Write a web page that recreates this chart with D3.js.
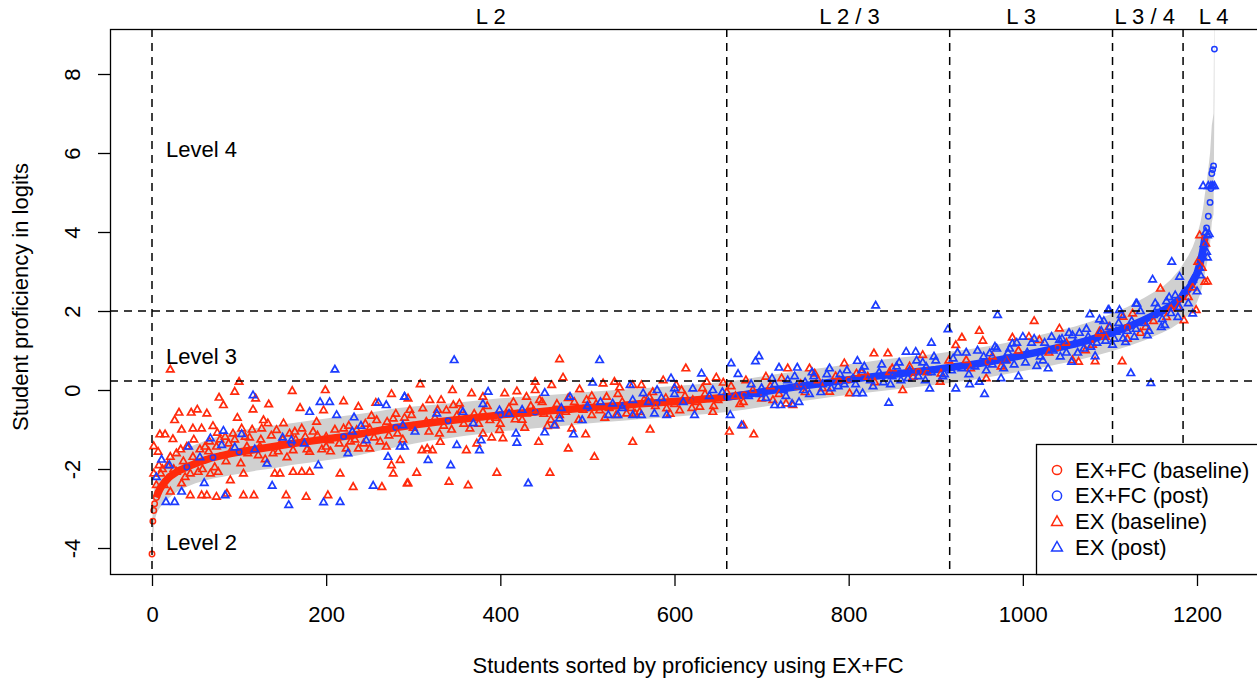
<!DOCTYPE html>
<html>
<head>
<meta charset="utf-8">
<script src="https://cdn.jsdelivr.net/npm/d3@7"></script>
<style>
  body { margin: 0; background: #fff; }
  svg text { font-family: "Liberation Sans", Arial, Helvetica, sans-serif; font-size: 22px; fill: #000; }
</style>
</head>
<body>
<svg width="1257" height="679"></svg>
<script>
// **** data ****

// sorted EX+FC estimates (student index -> logits), with the grey interval
var curveIdx = [0, 1, 2, 3, 5, 7, 10, 15, 20, 30, 40, 50, 60, 70, 80, 90, 100,
  120, 140, 160, 180, 200, 220, 240, 260, 280, 300, 320, 340, 360, 380, 400, 420, 440, 460, 480,
  500, 520, 540, 560, 580, 600, 620, 640, 660, 680, 700, 720, 740, 760, 780, 800, 820, 840, 860,
  880, 900, 920, 940, 960, 980, 1000, 1020, 1040, 1060, 1080, 1100, 1120, 1140, 1160,
  1170, 1180, 1190, 1195, 1200, 1204, 1207, 1209, 1211, 1213, 1215, 1216, 1217, 1218, 1219, 1220];
var curveVal = [-4.15, -3.32, -3.05, -2.88, -2.72, -2.6, -2.47, -2.32, -2.2, -2.05, -1.95, -1.86, -1.78, -1.71, -1.66, -1.61, -1.57,
  -1.5, -1.43, -1.36, -1.3, -1.24, -1.18, -1.11, -1.03, -0.95, -0.89, -0.83, -0.78, -0.73, -0.68, -0.63, -0.59, -0.56, -0.52, -0.49,
  -0.45, -0.42, -0.39, -0.35, -0.32, -0.29, -0.26, -0.22, -0.18, -0.12, -0.05, 0.02, 0.08, 0.14, 0.2, 0.26, 0.32, 0.37, 0.42,
  0.47, 0.52, 0.58, 0.64, 0.71, 0.79, 0.88, 0.97, 1.07, 1.17, 1.29, 1.43, 1.59, 1.78, 2.0,
  2.13, 2.3, 2.55, 2.72, 2.95, 3.25, 3.55, 3.85, 4.1, 4.4, 4.75, 5.1, 5.48, 5.58, 5.67, 8.63];
var bandLo = [-4.5, -3.75, -3.5, -3.3, -3.15, -3.05, -2.95, -2.82, -2.72, -2.55, -2.45, -2.36, -2.3, -2.24, -2.2, -2.16, -2.12,
  -2.04, -1.98, -1.9, -1.84, -1.78, -1.72, -1.64, -1.54, -1.45, -1.36, -1.28, -1.22, -1.16, -1.11, -1.05, -1.01, -0.97, -0.93, -0.89,
  -0.85, -0.81, -0.78, -0.74, -0.71, -0.68, -0.64, -0.6, -0.56, -0.5, -0.43, -0.36, -0.3, -0.24, -0.18, -0.12, -0.07, -0.02, 0.03,
  0.08, 0.13, 0.19, 0.25, 0.32, 0.4, 0.48, 0.56, 0.65, 0.74, 0.85, 0.97, 1.1, 1.26, 1.45,
  1.56, 1.7, 1.9, 2.02, 2.22, 2.45, 2.7, 2.95, 3.15, 3.4, 3.7, 3.95, 4.25, 4.35, 4.45, 7.4];
var bandHi = [-3.75, -2.85, -2.6, -2.45, -2.3, -2.15, -2.0, -1.85, -1.72, -1.58, -1.48, -1.38, -1.3, -1.22, -1.14, -1.08, -1.03,
  -0.96, -0.9, -0.84, -0.78, -0.72, -0.66, -0.6, -0.54, -0.46, -0.42, -0.38, -0.34, -0.3, -0.25, -0.21, -0.18, -0.15, -0.12, -0.09,
  -0.05, -0.02, 0.01, 0.04, 0.07, 0.1, 0.13, 0.17, 0.21, 0.27, 0.34, 0.41, 0.47, 0.53, 0.59, 0.65, 0.71, 0.77, 0.82,
  0.87, 0.92, 0.98, 1.04, 1.11, 1.19, 1.29, 1.39, 1.5, 1.61, 1.75, 1.91, 2.1, 2.34, 2.6,
  2.8, 3.05, 3.4, 3.62, 3.92, 4.25, 4.6, 4.95, 5.25, 5.6, 6.0, 6.35, 6.7, 6.85, 7.0, 10.5];
// b = EX+FC (baseline), p = EX+FC (post), one letter per curve sample
var curveGroup = ('bbbbbbbbb' + 'bpbbpbbp' + 'bbpbbpbbpbbpbbpbpbbpbpbpbpbp' +
  'bppbppbpppbpppbpppbpppbpp' + 'pbppp' + 'ppbpppppppp').split('');
// stretches where the dense circles merge into a solid stripe
var baselineStripe = [5, 680];
var postStripe = [660, 1209];

// EX (baseline): [student index, logits]
var exBaseline = [
  [21, 0.52], [100, 0.21], [95, -0.04], [161, -0.02], [199, 0.0], [275, -0.1], [77, -0.19], [82, -0.38], [119, -0.21],
  [134, -0.36], [170, -0.45], [220, -0.28], [197, -0.51], [257, -0.32], [237, -0.42], [31, -0.57], [45, -0.57], [52, -0.49],
  [63, -0.59], [26, -0.76], [98, -0.7], [116, -0.49], [128, -0.76], [9, -1.12], [15, -1.12], [2, -1.42], [24, -1.24],
  [34, -1.0], [47, -0.97], [57, -0.97], [70, -0.91], [75, -1.08], [84, -1.18], [93, -1.1], [103, -0.97], [107, -1.18],
  [126, -0.97], [133, -0.84], [143, -1.01], [151, -0.84], [164, -1.05], [172, -0.97], [189, -0.8], [176, -1.18], [200, -1.18],
  [220, -0.97], [235, -1.01], [250, -0.97], [265, -1.01], [258, -0.76], [277, -0.72], [200, -1.43], [181, -1.56], [162, -1.52],
  [139, -1.6], [124, -1.43], [109, -1.43], [90, -1.56], [74, -1.43], [61, -1.43], [47, -1.69], [40, -1.43], [28, -1.6],
  [21, -1.69], [7, -1.56], [2, -2.11], [10, -2.11], [28, -2.07], [44, -2.11], [53, -2.07], [67, -2.11], [76, -2.07],
  [90, -2.28], [105, -2.11], [21, -2.57], [34, -2.36], [44, -2.66], [57, -2.66], [63, -2.66], [74, -2.7], [86, -2.62],
  [105, -2.66], [117, -2.66], [154, -2.66], [177, -2.7], [202, -2.66], [141, -2.11], [147, -2.11], [162, -2.07], [172, -2.07],
  [181, -2.07], [216, -2.11], [231, -2.45], [264, -2.45], [277, -2.11], [285, -1.77], [275, -1.9], [293, -2.36], [223, -1.48],
  [237, -1.48], [250, -1.48], [269, -1.43], [204, -1.27],
  [5, -2.4], [12, -2.0], [18, -1.9], [36, -1.8], [55, -1.5], [66, -1.3], [88, -1.35], [112, -1.2], [122, -1.65], [150, -1.25],
  [158, -1.1], [185, -1.05], [195, -1.5], [210, -1.0], [228, -1.3], [245, -0.85], [255, -1.2], [270, -0.8], [282, -1.1], [290, -0.7],
  [8, -1.9], [14, -2.4], [25, -2.0], [33, -1.5], [38, -2.2], [48, -1.25], [58, -2.0], [65, -1.55], [72, -1.95], [78, -1.25],
  [85, -1.8], [95, -1.25], [102, -1.85], [110, -1.6], [115, -1.0], [125, -1.25], [130, -1.75], [137, -1.15], [145, -1.55],
  [155, -1.7], [165, -1.25], [178, -1.5], [190, -1.15], [205, -1.55], [215, -1.35], [226, -0.9], [233, -1.25], [243, -1.35],
  [252, -0.65], [262, -1.3], [272, -1.15], [280, -0.6], [288, -1.25], [296, -0.5],
  [308, 0.15], [345, 0.0], [367, -0.08], [405, -0.08], [419, -0.03], [440, 0.0], [440, 0.21], [459, 0.13], [468, 0.78],
  [472, 0.32], [491, 0.02], [518, 0.17], [531, 0.21], [537, 0.07], [552, 0.13], [562, 0.13], [587, 0.25], [602, 0.13],
  [613, 0.55], [637, 0.21], [648, 0.32], [656, 0.19], [663, -1.05], [679, -0.3], [294, -0.21], [319, -0.25], [298, -0.63],
  [311, -0.46], [346, -0.38], [353, -0.34], [338, -0.51], [365, -0.97], [373, -1.35], [390, -1.2], [399, -1.01], [403, -1.22],
  [310, -1.52], [316, -1.48], [322, -1.52], [331, -1.31], [304, -2.09], [294, -2.36], [341, -2.32], [363, -2.41], [396, -2.09],
  [457, -2.09], [444, -1.31], [478, -1.48], [508, -1.69], [498, -1.12], [482, -0.97], [463, -0.89], [454, -0.91], [552, -1.31],
  [572, -1.0], [533, -0.63], [430, -0.59], [438, -0.51], [417, -0.74], [380, -0.55], [388, -0.76], [468, -0.63], [505, -0.63],
  [514, -0.51], [545, -0.59], [560, -0.55], [591, -0.46], [606, -0.51], [629, -0.42], [644, -0.55], [330, -1.1], [361, -1.52],
  [380, -1.1], [332, -0.25], [380, -0.17], [430, -0.17], [445, -0.25], [499, -0.25], [522, -0.17], [571, -0.17], [621, -0.25],
  [300, -0.95], [315, -0.8], [325, -0.7], [335, -0.9], [350, -0.65], [358, -0.85], [370, -0.6], [395, -0.7], [410, -0.45],
  [425, -0.75], [435, -0.4], [450, -0.6], [465, -0.35], [475, -0.55], [485, -0.3], [495, -0.5], [510, -0.35], [525, -0.45],
  [540, -0.3], [550, -0.45], [565, -0.25], [578, -0.4], [590, -0.2], [600, -0.35], [612, -0.15], [625, -0.3], [635, -0.1],
  [650, -0.25], [660, -0.05], [670, -0.15],
  [318, -1.05], [328, -0.5], [344, -1.0], [355, -0.5], [375, -0.85], [385, -0.4], [400, -0.85], [415, -0.3], [428, -0.95],
  [448, -0.3], [458, -0.75], [478, -0.2], [490, -0.75], [505, -0.15], [520, -0.7], [535, -0.1], [555, -0.6], [575, -0.05],
  [595, -0.6], [608, 0.0], [620, -0.45], [632, 0.05], [645, -0.4], [665, 0.1], [675, -0.35],
  [829, 0.93], [845, 0.93], [950, 1.5], [1013, 1.75], [1114, 0.73], [930, 1.33], [923, 1.14], [954, 1.25], [1042, 1.56],
  [1064, 0.72], [1072, 1.01], [691, -1.12], [679, -0.89], [801, -0.08], [862, 0.0], [874, 0.34], [885, 0.89], [905, 0.21],
  [906, 0.42], [958, 0.3], [700, -0.21], [713, -0.25], [728, -0.34], [736, -0.38], [778, -0.04], [789, 0.25], [730, 0.55],
  [755, 0.55], [795, 0.68], [809, 0.42], [761, 0.42], [723, 0.3], [705, 0.34], [682, 0.25], [847, 0.46], [822, 0.34],
  [988, 1.33], [1007, 1.35], [1019, 1.27], [1057, 0.76], [981, 0.76], [935, 0.76], [1088, 1.48], [1126, 1.94],
  [690, 0.0], [710, 0.1], [720, -0.1], [745, 0.15], [750, -0.05], [765, 0.25], [770, 0.05], [785, 0.35], [815, 0.45],
  [830, 0.2], [850, 0.55], [870, 0.6], [890, 0.45], [915, 0.75], [940, 0.55], [965, 0.85], [975, 0.6], [995, 1.0],
  [1030, 0.95], [1050, 1.2], [1080, 1.15], [1095, 1.35],
  [1203, 3.92], [1210, 3.71], [1158, 2.57], [1201, 3.25], [1209, 2.74], [1190, 2.36], [1199, 2.03], [1185, 1.77],
  [1141, 1.6], [1115, 1.86], [1170, 2.07], [1088, 1.43], [1099, 1.6], [1083, 0.73], [1120, 1.3], [1135, 1.45], [1150, 1.75],
  [1165, 1.85], [1178, 2.1], [1195, 2.6], [1206, 3.1], [1212, 2.75]
];

// EX (post): [student index, logits]
var exPost = [
  [210, 0.52], [116, -0.13], [181, -0.55], [193, -0.3], [204, -0.3], [212, -0.63], [232, -0.69], [260, -0.32], [269, -0.38],
  [290, -0.17], [82, -1.03], [103, -1.11], [67, -1.22], [80, -1.39], [42, -1.43], [11, -1.76], [60, -2.35], [34, -2.57],
  [16, -2.83], [26, -2.83], [84, -2.66], [138, -2.42], [157, -2.91], [191, -1.9], [197, -2.84], [216, -2.83], [254, -2.42],
  [246, -1.27], [271, -1.69], [285, -1.43], [160, -1.27], [132, -1.86],
  [118, -1.5], [150, -1.2], [175, -1.35], [230, -1.05], [240, -0.9], [55, -1.7], [95, -1.45], [20, -1.9], [5, -2.2], [225, -1.6],
  [347, 0.76], [514, 0.76], [665, 0.68], [631, 0.42], [673, 0.41], [506, 0.19], [549, 0.13], [596, 0.3], [386, -0.04],
  [290, -0.17], [327, -0.59], [357, -0.55], [380, -0.35], [399, -0.51], [451, -0.07], [480, -0.17], [529, -0.34], [552, -0.25],
  [564, -0.08], [621, 0.04], [644, 0.0], [524, -0.63], [535, -0.63], [552, -0.63], [562, -0.63], [577, -0.59], [591, -0.63],
  [623, -0.63], [664, -0.63], [677, -0.89], [288, -0.89], [302, -1.05], [317, -1.77], [343, -1.9], [350, -1.39], [376, -1.52],
  [378, -1.27], [369, -0.84], [418, -1.1], [419, -1.33], [432, -2.36], [451, -1.07], [462, -0.89], [468, -0.72], [484, -1.12],
  [494, -0.76], [290, -1.43],
  [410, -0.6], [425, -0.5], [470, -0.45], [500, -0.4], [515, -0.3], [540, -0.45], [570, -0.3], [585, -0.2], [600, -0.1],
  [610, -0.3], [640, -0.15], [655, -0.05], [600, 0.05], [580, 0.0],
  [831, 2.14], [697, 0.86], [693, 0.73], [914, 1.54], [971, 1.9], [1077, 1.92], [1098, 2.03], [1111, 2.03], [1130, 2.19],
  [1088, 1.79], [895, 1.2], [956, -0.1], [846, -0.32], [923, 0.04], [939, 0.15], [950, 0.21], [975, 0.3], [995, 0.35],
  [1016, 0.61], [1029, 0.55], [1056, 0.72], [1083, 0.86], [1118, 1.22], [715, -0.38], [722, -0.38], [735, -0.35], [743, -0.3],
  [816, -0.08], [809, -0.08], [893, 0.04], [866, 0.97], [877, 0.97], [810, 0.74], [741, 0.57], [778, 0.55], [720, 0.57],
  [889, 0.59], [962, 0.93], [988, 1.18], [1000, 1.35], [1042, 1.27], [1057, 1.39], [1107, 1.48], [1115, 1.31],
  [685, -0.15], [700, 0.05], [705, -0.2], [715, 0.15], [725, 0.0], [730, 0.25], [740, 0.1], [750, 0.2], [755, -0.1],
  [760, 0.35], [770, 0.15], [780, 0.05], [790, 0.4], [795, 0.15], [805, 0.3], [815, 0.5], [825, 0.25], [835, 0.45],
  [840, 0.2], [850, 0.35], [855, 0.6], [860, 0.25], [870, 0.5], [880, 0.35], [885, 0.7], [895, 0.45], [900, 0.75],
  [910, 0.4], [920, 0.8], [930, 0.55], [935, 0.95], [945, 0.6], [955, 0.85], [965, 0.65], [970, 1.05], [980, 0.75],
  [985, 1.05], [990, 0.65], [1005, 0.95], [1010, 1.2], [1020, 0.85], [1025, 1.2], [1035, 1.0], [1045, 1.3], [1050, 0.95],
  [1060, 1.2], [1065, 1.45], [1070, 1.05], [1075, 1.35], [1085, 1.2], [1090, 1.5], [1095, 1.25], [1100, 1.6], [1105, 1.3],
  [1110, 1.7], [1120, 1.5], [1125, 1.75], [1130, 1.55],
  [688, 0.15], [698, -0.1], [712, 0.3], [728, -0.15], [738, 0.35], [748, 0.0], [758, 0.45], [768, -0.05], [775, 0.4],
  [788, 0.1], [798, 0.5], [808, 0.15], [818, 0.6], [828, 0.1], [838, 0.65], [848, 0.15], [858, 0.7], [868, 0.3], [878, 0.75],
  [888, 0.25], [898, 0.85], [908, 0.35], [918, 0.5], [925, 0.95], [938, 0.4], [948, 1.0], [958, 0.5], [968, 1.1], [978, 0.55],
  [983, 0.95], [993, 1.2], [1003, 0.7], [1013, 1.3], [1023, 0.75], [1033, 1.35], [1043, 0.85], [1053, 1.45], [1063, 0.95],
  [1073, 1.55], [1078, 1.1], [1093, 1.75], [1103, 1.15], [1113, 1.9], [1128, 1.35], [1135, 2.0], [1145, 1.5], [1152, 2.2],
  [1163, 1.65], [1168, 2.35], [1178, 1.85],
  [1207, 5.17], [1213, 5.17], [1216, 5.17], [1218, 5.17], [1220, 5.17], [1212, 3.92], [1212, 3.36], [1171, 3.25],
  [1149, 2.8], [1180, 2.87], [1131, 2.19], [1099, 2.03], [1195, 1.94], [1204, 2.91], [1143, 1.39], [1159, 1.6],
  [1124, 0.43], [1147, 0.18], [1140, 1.7], [1150, 1.9], [1155, 2.1], [1160, 1.8], [1165, 2.25], [1170, 1.95],
  [1175, 2.4], [1180, 2.1], [1185, 2.5], [1190, 2.2], [1195, 2.8], [1200, 2.5], [1203, 3.1], [1206, 3.4], [1208, 3.7],
  [1210, 4.0], [1214, 3.95], [1211, 3.5]
];

// cut points and labels
var cutStudents = [0, 660, 916, 1103, 1184];
var cutLogits = [2.0, 0.23];
var bandNames = ['L 2', 'L 2 / 3', 'L 3', 'L 3 / 4', 'L 4'];
var bandNameAt = [389, 801, 998, 1140, 1219];
var levelNames = ['Level 4', 'Level 3', 'Level 2'];
var levelNameAt = [6.1, 0.84, -3.85];
var xTicks = [0, 200, 400, 600, 800, 1000, 1200];
var yTicks = [-4, -2, 0, 2, 4, 6, 8];
var legendLabels = ['EX+FC (baseline)', 'EX+FC (post)', 'EX (baseline)', 'EX (post)'];

// **** drawing ****

var RED = '#ff2a0c';
var BLUE = '#1c3cff';

var svg = d3.select('svg');
var box = { left: 110, right: 1257, top: 29, bottom: 574 };

var x = d3.scaleLinear().domain([0, 1200]).range([152, 1197]);
var y = d3.scaleLinear().domain([-4, 8]).range([548, 74]);

svg.append('defs').append('clipPath').attr('id', 'plotclip')
  .append('rect')
  .attr('x', box.left).attr('y', box.top)
  .attr('width', box.right - box.left).attr('height', box.bottom - box.top);

var plot = svg.append('g').attr('clip-path', 'url(#plotclip)');

var curve = curveIdx.map(function (d, i) {
  return { i: d, v: curveVal[i], lo: bandLo[i], hi: bandHi[i], g: curveGroup[i] };
});

// grey interval
plot.append('path')
  .datum(curve)
  .attr('d', d3.area().x(d => x(d.i)).y0(d => y(d.lo)).y1(d => y(d.hi)))
  .attr('fill', '#d0d0d0');

// solid stripes where circles overlap
var line = d3.line().x(d => x(d.i)).y(d => y(d.v));
plot.append('path')
  .datum(curve.filter(d => d.i >= baselineStripe[0] && d.i <= baselineStripe[1]))
  .attr('d', line).attr('fill', 'none').attr('stroke', RED).attr('stroke-width', 7.5);
plot.append('path')
  .datum(curve.filter(d => d.i >= postStripe[0] && d.i <= postStripe[1]))
  .attr('d', line).attr('fill', 'none').attr('stroke', BLUE).attr('stroke-width', 7.5);

// EX+FC circles
plot.selectAll('circle.fc')
  .data(curve).enter()
  .append('circle')
  .attr('class', 'fc')
  .attr('cx', d => x(d.i))
  .attr('cy', d => y(d.v))
  .attr('r', 2.7)
  .attr('fill', 'none')
  .attr('stroke', d => d.g === 'p' ? BLUE : RED)
  .attr('stroke-width', 1.5);

// EX triangles
var tri = 'M0,-4L3.7,2.5L-3.7,2.5Z';
function triangles(data, colour, cls) {
  plot.selectAll('path.' + cls)
    .data(data).enter()
    .append('path')
    .attr('class', cls)
    .attr('d', tri)
    .attr('transform', d => 'translate(' + x(d[0]) + ',' + y(d[1]) + ')')
    .attr('fill', 'none')
    .attr('stroke', colour)
    .attr('stroke-width', 1.7);
}
triangles(exBaseline, RED, 'exb');
triangles(exPost, BLUE, 'exp');

// dashed cut lines
plot.selectAll('line.vcut')
  .data(cutStudents).enter()
  .append('line')
  .attr('x1', d => x(d)).attr('x2', d => x(d))
  .attr('y1', box.top).attr('y2', box.bottom)
  .attr('stroke', '#000').attr('stroke-width', 1.5).attr('stroke-dasharray', '8,6');
plot.selectAll('line.hcut')
  .data(cutLogits).enter()
  .append('line')
  .attr('x1', box.left).attr('x2', box.right)
  .attr('y1', d => y(d)).attr('y2', d => y(d))
  .attr('stroke', '#000').attr('stroke-width', 1.5).attr('stroke-dasharray', '8,6');

// level labels inside the plot
svg.selectAll('text.level')
  .data(levelNames).enter()
  .append('text')
  .attr('x', 166)
  .attr('y', (d, i) => y(levelNameAt[i]))
  .attr('dominant-baseline', 'central')
  .text(d => d);

// band labels above the plot
svg.selectAll('text.band')
  .data(bandNames).enter()
  .append('text')
  .attr('x', (d, i) => x(bandNameAt[i]))
  .attr('y', 24)
  .attr('text-anchor', 'middle')
  .text(d => d);

// box
svg.append('rect')
  .attr('x', box.left + 0.5).attr('y', box.top + 0.5)
  .attr('width', 1200).attr('height', box.bottom - box.top)
  .attr('fill', 'none').attr('stroke', '#000').attr('stroke-width', 1.3);

// axes
var xAxis = svg.append('g')
  .attr('transform', 'translate(0,' + box.bottom + ')')
  .call(d3.axisBottom(x).tickValues(xTicks).tickSize(12).tickPadding(20).tickFormat(d => String(d)));
xAxis.select('.domain').remove();
xAxis.selectAll('line').attr('stroke-width', 1.3);
xAxis.selectAll('text').style('font-size', '22px').style('font-family', '"Liberation Sans", Arial, sans-serif');

var yAxis = svg.append('g')
  .attr('transform', 'translate(' + box.left + ',0)')
  .call(d3.axisLeft(y).tickValues(yTicks).tickSize(12).tickFormat(d => String(d)));
yAxis.select('.domain').remove();
yAxis.selectAll('line').attr('stroke-width', 1.3);
yAxis.selectAll('text')
  .attr('x', 0).attr('dy', null)
  .attr('text-anchor', 'middle')
  .attr('dominant-baseline', 'central')
  .attr('transform', 'translate(-38,0) rotate(-90)')
  .style('font-size', '22px').style('font-family', '"Liberation Sans", Arial, sans-serif');

svg.append('text')
  .attr('transform', 'translate(688,665)')
  .attr('text-anchor', 'middle')
  .attr('dominant-baseline', 'central')
  .text('Students sorted by proficiency using EX+FC');

svg.append('text')
  .attr('transform', 'translate(20,297) rotate(-90)')
  .attr('text-anchor', 'middle')
  .attr('dominant-baseline', 'central')
  .text('Student proficiency in logits');

// legend
var legend = svg.append('g').attr('transform', 'translate(1036,444)');
legend.append('rect')
  .attr('x', 0.5).attr('y', 0.5).attr('width', 300).attr('height', box.bottom - 444)
  .attr('fill', '#fff').attr('stroke', '#000').attr('stroke-width', 1.3);
var legendColour = [RED, BLUE, RED, BLUE];
legendLabels.forEach(function (label, i) {
  var cy = 26 + i * 25.7;
  if (i < 2) {
    legend.append('circle')
      .attr('cx', 21).attr('cy', cy).attr('r', 4.6)
      .attr('fill', 'none').attr('stroke', legendColour[i]).attr('stroke-width', 1.5);
  } else {
    legend.append('path')
      .attr('d', 'M0,-5.6L5.4,4L-5.4,4Z')
      .attr('transform', 'translate(21,' + cy + ')')
      .attr('fill', 'none').attr('stroke', legendColour[i]).attr('stroke-width', 1.5);
  }
  legend.append('text')
    .attr('x', 39).attr('y', cy)
    .attr('dominant-baseline', 'central')
    .text(label);
});
</script>
</body>
</html>
